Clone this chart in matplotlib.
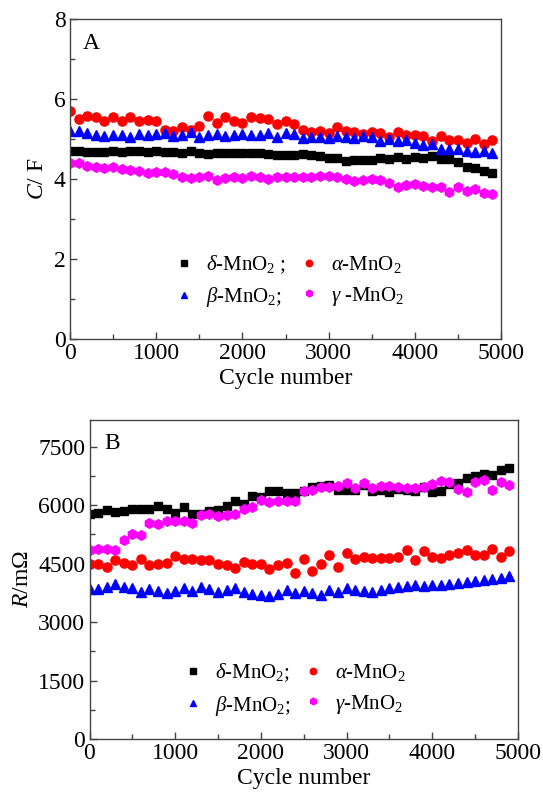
import matplotlib
matplotlib.use("Agg")
import matplotlib.pyplot as plt
from matplotlib.ticker import MultipleLocator
import numpy as np

plt.rcParams['font.family'] = ['Liberation Serif', 'DejaVu Serif']
plt.rcParams['mathtext.fontset'] = 'custom'
plt.rcParams['mathtext.rm'] = 'Liberation Serif'
plt.rcParams['mathtext.it'] = 'Liberation Serif:italic'
plt.rcParams['mathtext.bf'] = 'Liberation Serif:bold'

cycles = list(range(0, 5000, 100))

# Panel A: capacitance C/F
cap_delta = [4.69, 4.69, 4.68, 4.68, 4.68, 4.71, 4.68, 4.69, 4.69, 4.68,
             4.69, 4.68, 4.68, 4.64, 4.69, 4.64, 4.63, 4.66, 4.66, 4.65,
             4.65, 4.64, 4.66, 4.63, 4.61, 4.61, 4.61, 4.62, 4.61, 4.58,
             4.52, 4.52, 4.44, 4.48, 4.48, 4.48, 4.52, 4.51, 4.55, 4.50,
             4.56, 4.53, 4.58, 4.50, 4.50, 4.43, 4.31, 4.27, 4.21, 4.16]
cap_alpha = [5.71, 5.50, 5.58, 5.54, 5.46, 5.56, 5.46, 5.54, 5.46, 5.48,
             5.46, 5.23, 5.19, 5.29, 5.23, 5.33, 5.57, 5.39, 5.56, 5.46,
             5.40, 5.56, 5.53, 5.50, 5.38, 5.46, 5.38, 5.23, 5.18, 5.21,
             5.14, 5.31, 5.21, 5.18, 5.13, 5.17, 5.15, 5.04, 5.18, 5.11,
             5.10, 5.07, 4.94, 5.07, 4.97, 4.98, 4.89, 5.00, 4.87, 4.98]
cap_beta = [5.19, 5.19, 5.15, 5.10, 5.08, 5.09, 5.09, 5.04, 5.12, 5.11,
            5.12, 5.15, 5.08, 5.11, 5.18, 5.04, 5.10, 5.12, 5.08, 5.10,
            5.12, 5.10, 5.11, 5.14, 5.06, 5.16, 5.12, 5.03, 5.06, 5.06,
            5.02, 5.08, 5.06, 5.03, 5.08, 5.06, 4.96, 5.01, 4.94, 4.98,
            4.90, 4.85, 4.88, 4.74, 4.74, 4.74, 4.70, 4.68, 4.71, 4.65]
cap_gamma = [4.39, 4.41, 4.33, 4.29, 4.28, 4.29, 4.24, 4.23, 4.19, 4.16,
             4.18, 4.18, 4.13, 4.04, 4.03, 4.06, 4.08, 3.98, 4.03, 4.04,
             4.03, 4.08, 4.04, 4.01, 4.06, 4.06, 4.06, 4.06, 4.04, 4.08,
             4.08, 4.06, 4.01, 3.96, 3.98, 3.99, 3.98, 3.91, 3.79, 3.86,
             3.88, 3.83, 3.81, 3.79, 3.68, 3.81, 3.71, 3.74, 3.64, 3.62]

# Panel B: resistance R/mOhm
res_delta = [5779, 5796, 5864, 5813, 5856, 5898, 5898, 5898, 5966, 5898,
             5796, 5941, 5779, 5779, 5856, 5881, 5966, 6111, 6034, 6239,
             6205, 6350, 6350, 6307, 6307, 6367, 6469, 6478, 6512, 6392,
             6392, 6375, 6512, 6350, 6392, 6333, 6409, 6392, 6350, 6452,
             6324, 6367, 6546, 6563, 6691, 6750, 6801, 6776, 6887, 6946]
res_alpha = [4475, 4492, 4416, 4595, 4518, 4450, 4603, 4458, 4475, 4518,
             4705, 4620, 4603, 4578, 4586, 4475, 4458, 4373, 4535, 4475,
             4475, 4365, 4458, 4518, 4262, 4620, 4297, 4475, 4722, 4407,
             4773, 4620, 4663, 4629, 4646, 4646, 4663, 4859, 4586, 4816,
             4663, 4629, 4722, 4773, 4850, 4731, 4722, 4876, 4663, 4833]
res_beta = [3836, 3853, 3904, 3964, 3904, 3862, 3777, 3853, 3794, 3751,
            3794, 3862, 3794, 3904, 3853, 3777, 3819, 3862, 3768, 3726,
            3683, 3666, 3709, 3811, 3734, 3794, 3751, 3683, 3811, 3777,
            3870, 3819, 3785, 3768, 3819, 3870, 3896, 3921, 3955, 3921,
            3947, 3938, 3981, 4006, 4032, 4049, 4075, 4092, 4134, 4177]
res_gamma = [4859, 4876, 4876, 4859, 5097, 5259, 5234, 5540, 5515, 5583,
             5583, 5600, 5540, 5753, 5779, 5711, 5753, 5779, 5907, 5949,
             6120, 6077, 6094, 6111, 6111, 6367, 6392, 6452, 6452, 6495,
             6563, 6426, 6563, 6426, 6478, 6478, 6452, 6426, 6426, 6452,
             6546, 6622, 6580, 6409, 6324, 6597, 6648, 6392, 6589, 6520]

W, H = 543, 795
fig = plt.figure(figsize=(W / 100, H / 100), dpi=100)

axA = fig.add_axes([70 / W, 1 - 339 / H, (501 - 70) / W, (339 - 19) / H])
axB = fig.add_axes([89.5 / W, 1 - 739 / H, (518 - 89.5) / W, (739 - 420) / H])

spine_col = '#444444'
tick_fs = 17


def style(ax):
    for side in ['top', 'right', 'left', 'bottom']:
        ax.spines[side].set_color(spine_col)
        ax.spines[side].set_linewidth(1.0)
    ax.tick_params(which='both', direction='in', top=False, right=False,
                   color=spine_col, labelsize=tick_fs, pad=3)
    ax.tick_params(which='major', length=5, width=1)
    ax.tick_params(which='minor', length=3.5, width=1)


def draw(ax, d, b, a, g, lab_d, lab_b, lab_a, lab_g):
    h1, = ax.plot(cycles, d, 's', color='black', ms=5.4, mec='black', label=lab_d)
    h2, = ax.plot(cycles, a, 'o', color='#ff0000', ms=6.6, mec='#ff0000', label=lab_a)
    h3, = ax.plot(cycles, b, '^', color='#0000ff', ms=6.6, mec='#0000ff', label=lab_b)
    h4, = ax.plot(cycles, g, 'h', color='#ff00ff', ms=6.9, mec='#ff00ff', label=lab_g)
    return h1, h3, h2, h4


hA = draw(axA, cap_delta, cap_beta, cap_alpha, cap_gamma,
          r'$\delta$-MnO$_2$ ;', r'$\beta$-MnO$_2$;', r'$\alpha$-MnO$_2$', r'$\gamma$ -MnO$_2$')
hB = draw(axB, res_delta, res_beta, res_alpha, res_gamma,
          r'$\delta$-MnO$_2$;', r'$\beta$-MnO$_2$;', r'$\alpha$-MnO$_2$', r'$\gamma$-MnO$_2$')

for ax in (axA, axB):
    style(ax)
    ax.set_xlim(0, 5000)
    ax.xaxis.set_major_locator(MultipleLocator(1000))
    ax.xaxis.set_minor_locator(MultipleLocator(500))
    ax.set_xlabel('Cycle number', fontsize=17, labelpad=3)

axA.set_ylim(0, 8)
axA.yaxis.set_major_locator(MultipleLocator(2))
axA.yaxis.set_minor_locator(MultipleLocator(1))
axA.set_ylabel(r'$C$/ F', fontsize=17, labelpad=4)

axB.set_ylim(0, 8180)
axB.yaxis.set_major_locator(MultipleLocator(1500))
axB.yaxis.set_minor_locator(MultipleLocator(750))
axB.set_ylabel(r'$R$/m$\Omega$', fontsize=17, labelpad=4)

axA.text(0.03, 0.955, 'A', transform=axA.transAxes, fontsize=17, va='top', ha='left')
axB.text(0.035, 0.96, 'B', transform=axB.transAxes, fontsize=17, va='top', ha='left')

leg_kw = dict(ncol=2, frameon=False, fontsize=15, loc='center', markerscale=0.7,
              handlelength=1.2, handletextpad=0.45, columnspacing=0.5,
              labelspacing=0.45)
axA.legend(handles=list(hA), bbox_to_anchor=(0.506, 0.18), **leg_kw)
axB.legend(handles=list(hB), bbox_to_anchor=(0.475, 0.155), **leg_kw)

fig.savefig('out.png', dpi=100)
